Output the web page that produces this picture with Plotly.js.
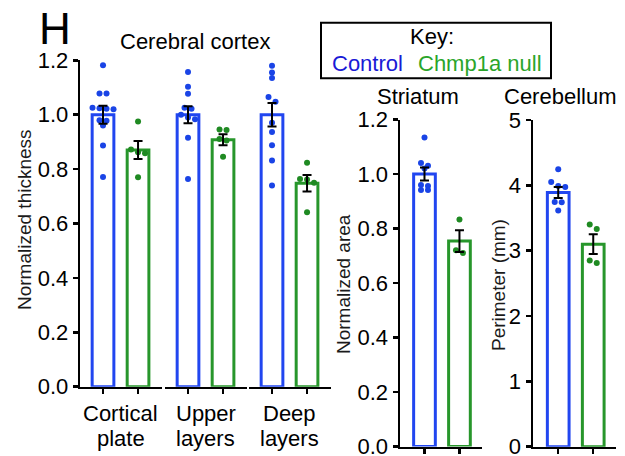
<!DOCTYPE html>
<html>
<head>
<meta charset="utf-8">
<script src="https://cdn.plot.ly/plotly-3.0.1.min.js"></script>
<style>html,body{margin:0;padding:0;background:#fff;}#chart{width:625px;height:456px;}</style>
</head>
<body>
<div id="chart"></div>
<script>
// ---------------- data ----------------
const cortexGroups = ['Cortical plate', 'Upper layers', 'Deep layers'];
const cortexLabelTop = ['Cortical', 'Upper', 'Deep'];
const cortexLabelBottom = ['plate', 'layers', 'layers'];
const cortexCtrlMean = [1.0, 1.0, 1.0];
const cortexCtrlSem = [0.033, 0.031, 0.043];
const cortexNullMean = [0.87, 0.908, 0.748];
const cortexNullSem = [0.033, 0.02, 0.03];

const cpCtrl = [1.182, 1.078, 1.078, 1.026, 1.024, 1.022, 1.02, 0.98, 0.978, 0.96, 0.887, 0.771];
const cpNull = [0.975, 0.872, 0.862, 0.858, 0.77];
const ulCtrl = [1.157, 1.103, 1.077, 1.026, 1.022, 1.0, 0.99, 0.983, 0.915, 0.764];
const ulNull = [0.946, 0.944, 0.911, 0.905, 0.845];
const dlCtrl = [1.18, 1.155, 1.135, 1.065, 1.048, 0.97, 0.936, 0.888, 0.832, 0.74];
const dlNull = [0.823, 0.764, 0.762, 0.75, 0.641];

const striMean = [1.0, 0.754];
const striSem = [0.024, 0.04];
const striCtrl = [1.134, 1.04, 1.03, 1.02, 0.96, 0.956, 0.941, 0.941];
const striNull = [0.833, 0.72, 0.71];

const cereMean = [3.89, 3.10];
const cereSem = [0.085, 0.15];
const cereCtrl = [4.246, 4.05, 3.99, 3.975, 3.745, 3.74, 3.615];
const cereNull = [3.40, 3.33, 2.85, 2.81];

// ---------------- styles ----------------
const BLUE = '#2146f0', BLUE_DOT = '#1a44e6';
const GREEN = '#27962b', GREEN_DOT = '#1f8a22';
const FONT = 'Liberation Sans, Arial, Helvetica, sans-serif';

// dots placed in horizontal rows (GraphPad-like scatter)
function rowX(values, center, yPx, xPx) {
  const idx = values.map((v, i) => i).sort((a, b) => values[b] - values[a]);
  const xs = new Array(values.length);
  const rows = []; let row = [];
  idx.forEach(i => {
    if (row.length && (values[row[0]] - values[i]) * yPx > 5) { rows.push(row); row = []; }
    row.push(i);
  });
  if (row.length) rows.push(row);
  rows.forEach(r => r.forEach((i, k) => { xs[i] = center + (k - (r.length - 1) / 2) * 7 / xPx; }));
  return xs;
}

const traces = [];
function addPanel(xa, ya, means, sems, ctrl, nul, yPx) {
  traces.push({
    type: 'bar', x: [0, 1], y: means, xaxis: xa, yaxis: ya, width: 0.62,
    marker: { color: 'rgba(255,255,255,1)', line: { color: [BLUE, GREEN], width: 3 } },
    hoverinfo: 'skip'
  });
  traces.push({
    type: 'scatter', mode: 'markers', x: rowX(ctrl, 0, yPx, 35), y: ctrl, xaxis: xa, yaxis: ya,
    marker: { color: BLUE_DOT, size: 6 }, hoverinfo: 'skip'
  });
  traces.push({
    type: 'scatter', mode: 'markers', x: rowX(nul, 1, yPx, 35), y: nul, xaxis: xa, yaxis: ya,
    marker: { color: GREEN_DOT, size: 6 }, hoverinfo: 'skip'
  });
  traces.push({
    type: 'scatter', mode: 'markers', x: [0, 1], y: means, xaxis: xa, yaxis: ya,
    marker: { color: 'rgba(0,0,0,0)', size: 1 },
    error_y: { type: 'data', array: sems, visible: true, color: '#000', thickness: 2, width: 4.5 },
    hoverinfo: 'skip'
  });
}

const cortexData = [[cpCtrl, cpNull], [ulCtrl, ulNull], [dlCtrl, dlNull]];
['x', 'x2', 'x3'].forEach((xa, g) => {
  addPanel(xa, 'y', [cortexCtrlMean[g], cortexNullMean[g]], [cortexCtrlSem[g], cortexNullSem[g]],
    cortexData[g][0], cortexData[g][1], 272);
});
addPanel('x4', 'y2', striMean, striSem, striCtrl, striNull, 275);
addPanel('x5', 'y3', cereMean, cereSem, cereCtrl, cereNull, 65);

// ---------------- layout ----------------
const W = 625, H = 456;
const px = v => v / W, py = v => 1 - v / H;

function xAxis(domain, range, anchor) {
  return {
    domain: domain, range: range, anchor: anchor, showline: true, linecolor: '#000', linewidth: 2.5,
    ticks: 'outside', ticklen: 5, tickwidth: 2.5, tickcolor: '#000', tickvals: [0, 1], ticktext: ['', ''],
    showgrid: false, zeroline: false, fixedrange: true
  };
}
function yAxis(domain, range, tickvals, fmt, anchor) {
  return {
    domain: domain, range: range, anchor: anchor, showline: true, linecolor: '#000', linewidth: 2.5,
    ticks: 'outside', ticklen: 5, tickwidth: 2.5, tickcolor: '#000', tickvals: tickvals, tickformat: fmt,
    ticklabeloverflow: 'allow',
    tickfont: { size: 22, color: '#000', family: FONT }, showgrid: false, zeroline: false, fixedrange: true
  };
}

const ann = [];
function txt(text, x, y, size, color, extra) {
  ann.push(Object.assign({ text: text, x: px(x), y: py(y), xref: 'paper', yref: 'paper', showarrow: false,
    xanchor: 'center', yanchor: 'middle', font: { size: size, color: color, family: FONT } }, extra || {}));
}
txt('H', 55, 28, 44, '#000', { height: 36, valign: 'middle' });
txt('Cerebral cortex', 195, 42, 22, '#000');
txt('Striatum', 418, 96, 22, '#000');
txt('Cerebellum', 560, 96, 22, '#000');
txt('Key:', 432, 36, 22, '#000');
txt('Control', 367, 63, 22, '#1a1ad6');
txt('Chmp1a null', 480, 63, 22, '#2aa52a');
txt('Normalized thickness', 25, 220, 19, '#1a1a1a', { textangle: -90 });
txt('Normalized area', 343, 284, 19, '#1a1a1a', { textangle: -90 });
txt('Perimeter (mm)', 498, 285, 19, '#1a1a1a', { textangle: -90 });
['x', 'x2', 'x3'].forEach((xa, g) => {
  ann.push({ text: cortexLabelTop[g], x: 0.5, xref: xa, y: py(413), yref: 'paper', showarrow: false,
    xanchor: 'center', yanchor: 'middle', font: { size: 22, color: '#000', family: FONT } });
  ann.push({ text: cortexLabelBottom[g], x: 0.5, xref: xa, y: py(438), yref: 'paper', showarrow: false,
    xanchor: 'center', yanchor: 'middle', font: { size: 22, color: '#000', family: FONT } });
});

const xr = [-0.65, 1.67];
const layout = {
  width: W, height: H, margin: { l: 0, r: 0, t: 0, b: 0 }, showlegend: false,
  paper_bgcolor: '#fff', plot_bgcolor: 'rgba(0,0,0,0)', font: { family: FONT, color: '#000' },
  barmode: 'overlay',
  xaxis: xAxis([px(80.25), px(161.5)], xr, 'y'),
  xaxis2: xAxis([px(165.25), px(246.5)], xr, 'y'),
  xaxis3: xAxis([px(249.25), px(330.5)], xr, 'y'),
  xaxis4: xAxis([px(400), px(482.2)], [-0.7, 1.65], 'y2'),
  xaxis5: xAxis([px(533), px(616)], [-0.72, 1.65], 'y3'),
  yaxis: yAxis([py(386.7), py(60.3)], [0, 1.2], [0, 0.2, 0.4, 0.6, 0.8, 1.0, 1.2], '.1f', 'x'),
  yaxis2: yAxis([py(446.5), py(119.5)], [0, 1.2], [0, 0.2, 0.4, 0.6, 0.8, 1.0, 1.2], '.1f', 'x4'),
  yaxis3: yAxis([py(446.7), py(120)], [0, 5], [0, 1, 2, 3, 4, 5], 'd', 'x5'),
  annotations: ann,
  shapes: [{ type: 'rect', xref: 'paper', yref: 'paper', x0: px(321), x1: px(551), y0: py(78.3), y1: py(22.7),
    line: { color: '#000', width: 2 }, fillcolor: 'rgba(0,0,0,0)' }]
};

Plotly.newPlot('chart', traces, layout, { staticPlot: true, displayModeBar: false });
</script>
</body>
</html>
